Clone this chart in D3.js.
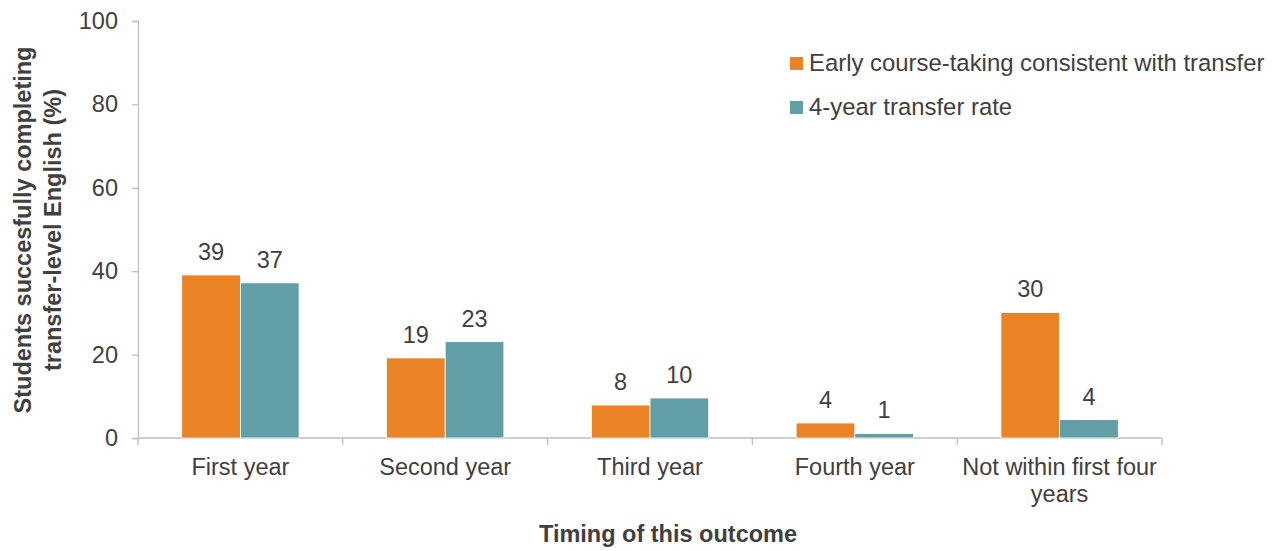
<!DOCTYPE html>
<html>
<head>
<meta charset="utf-8">
<script src="https://cdn.jsdelivr.net/npm/d3@7"></script>
<style>
  html, body { margin: 0; padding: 0; background: #fff; }
  svg { display: block; font-family: "Liberation Sans", Arial, sans-serif; }
</style>
</head>
<body>
<svg id="chart" width="1274" height="551"></svg>
<script>
const categories = ["First year", "Second year", "Third year", "Fourth year", "Not within first four years"];
const seriesNames = ["Early course-taking consistent with transfer", "4-year transfer rate"];
const earlyCourse = [39.1, 19.2, 7.9, 3.6, 30.1];
const transferRate = [37.2, 23.1, 9.6, 1.1, 4.4];
const yTicks = [0, 20, 40, 60, 80, 100];
const colors = ["#E98326", "#629EA6"];

const svg = d3.select("#chart");
const x0 = 138, x1 = 1162, yBottom = 438, yTop = 21;
const fs = 23.5;

const x = d3.scaleBand().domain(categories).range([x0, x1]).paddingInner(0.427).paddingOuter(0.2135);
const xs = d3.scaleBand().domain([0, 1]).range([0, x.bandwidth()]);
const y = d3.scaleLinear().domain([0, 100]).range([yBottom, yTop]);

const textColor = "#404040";
const axisColor = "#BFBFBF";

// y axis
const yAxis = svg.append("g").attr("transform", `translate(${x0},0)`)
  .call(d3.axisLeft(y).tickValues(yTicks).tickSize(6).tickPadding(14).tickFormat(d3.format("d")));
yAxis.select(".domain").attr("stroke", axisColor).attr("stroke-width", 1.3);
yAxis.selectAll(".tick line").attr("stroke", axisColor).attr("stroke-width", 1.3);
yAxis.selectAll(".tick text").attr("fill", textColor).attr("font-size", fs).attr("font-family", "Liberation Sans, Arial, sans-serif");

// x axis with ticks at category boundaries
const xAxisG = svg.append("g").attr("transform", `translate(0,${yBottom})`);
xAxisG.append("line").attr("x1", x0).attr("x2", x1).attr("y1", 0).attr("y2", 0)
  .attr("stroke", axisColor).attr("stroke-width", 1.3);
const boundaries = d3.range(categories.length + 1).map(i => x0 + i * (x1 - x0) / categories.length);
xAxisG.selectAll("line.tk").data(boundaries).join("line").attr("class", "tk")
  .attr("x1", d => d).attr("x2", d => d).attr("y1", 0).attr("y2", 7)
  .attr("stroke", axisColor).attr("stroke-width", 1.3);

// category labels
const catLines = [["First year"], ["Second year"], ["Third year"], ["Fourth year"], ["Not within first four", "years"]];
categories.forEach((c, i) => {
  const cx = x(c) + x.bandwidth() / 2;
  const t = svg.append("text").attr("x", cx).attr("y", 475).attr("text-anchor", "middle")
    .attr("fill", textColor).attr("font-size", fs);
  catLines[i].forEach((ln, j) => {
    t.append("tspan").attr("x", cx).attr("dy", j === 0 ? 0 : 27).text(ln);
  });
});

// bars
const data = [earlyCourse, transferRate];
const groups = svg.append("g");
categories.forEach((c, i) => {
  data.forEach((arr, s) => {
    const v = arr[i];
    const bx = x(c) + xs(s);
    groups.append("rect")
      .attr("x", bx).attr("y", y(v)).attr("width", xs.bandwidth()).attr("height", yBottom - y(v))
      .attr("fill", colors[s]).attr("stroke", "#ffffff").attr("stroke-width", 0.8);
    groups.append("text")
      .attr("x", bx + xs.bandwidth() / 2).attr("y", y(v) - 15)
      .attr("text-anchor", "middle").attr("fill", textColor).attr("font-size", fs)
      .text(d3.format(".0f")(v));
  });
});

// y title
const yt = svg.append("text").attr("transform", "translate(31,230) rotate(-90)")
  .attr("text-anchor", "middle").attr("fill", textColor).attr("font-size", fs).attr("font-weight", "bold");
yt.append("tspan").attr("x", 0).attr("dy", 0).text("Students succesfully completing");
yt.append("tspan").attr("x", 0).attr("dy", 30).text("transfer-level English (%)");

// x title
svg.append("text").attr("x", 668).attr("y", 542).attr("text-anchor", "middle")
  .attr("fill", textColor).attr("font-size", fs).attr("font-weight", "bold")
  .text("Timing of this outcome");

// legend
const legend = svg.append("g");
seriesNames.forEach((n, i) => {
  const ly = 57 + i * 44;
  legend.append("rect").attr("x", 790).attr("y", ly).attr("width", 13).attr("height", 13).attr("fill", colors[i]);
  legend.append("text").attr("x", 809).attr("y", ly + 14).attr("fill", textColor).attr("font-size", 23.9).text(n);
});
</script>
</body>
</html>
